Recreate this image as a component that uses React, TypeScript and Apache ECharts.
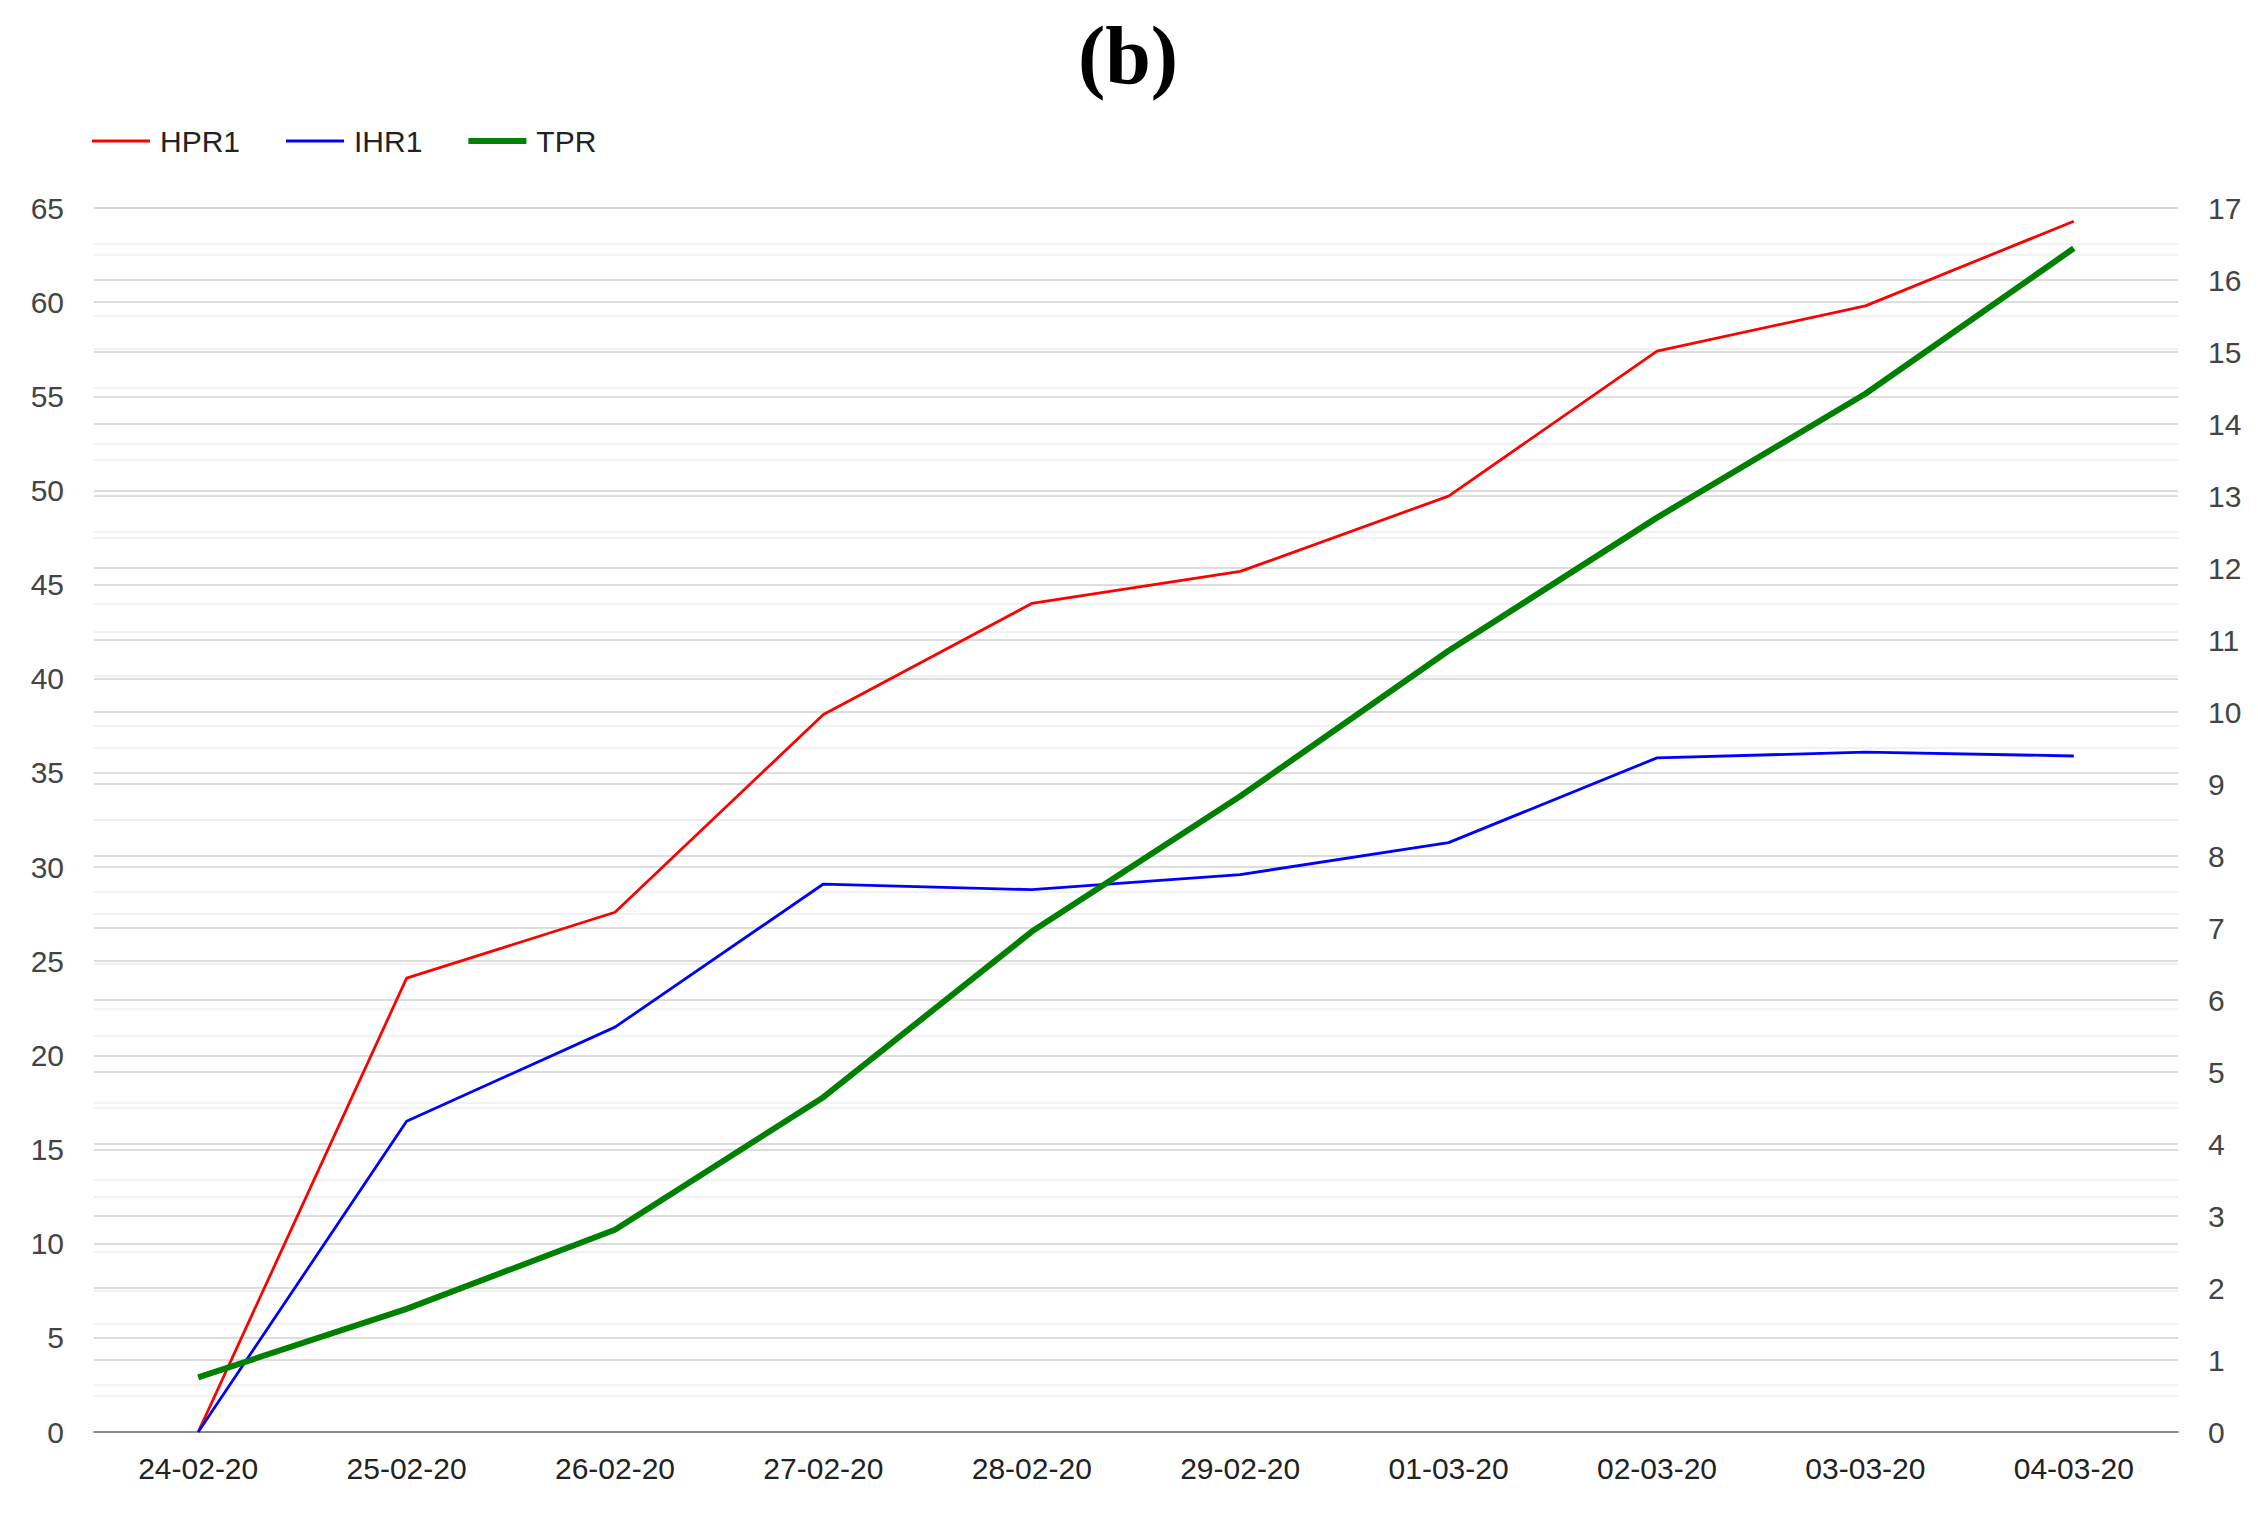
import React, { useEffect, useRef } from "react";
import * as echarts from "echarts";

const categories = ["24-02-20", "25-02-20", "26-02-20", "27-02-20", "28-02-20", "29-02-20", "01-03-20", "02-03-20", "03-03-20", "04-03-20"];
const hpr1 = [0, 24.1, 27.6, 38.1, 44.0, 45.7, 49.7, 57.4, 59.8, 64.3];
const ihr1 = [0, 16.5, 21.5, 29.1, 28.8, 29.6, 31.3, 35.8, 36.1, 35.9];
const tpr = [0.76, 1.71, 2.81, 4.65, 6.95, 8.83, 10.85, 12.7, 14.42, 16.44];

const FONT = "'Liberation Sans', Arial, sans-serif";
const RED = "#ff0000";
const BLUE = "#0000ff";
const GREEN = "#008000";

export default function App() {
  const ref = useRef<HTMLDivElement>(null);
  useEffect(() => {
    if (!ref.current) return;
    const chart = echarts.init(ref.current, undefined, { renderer: "svg" });
    const major = { show: true, lineStyle: { color: "#d2d2d2", width: 1.5 } };
    const minor = { show: true, lineStyle: { color: "#ececec", width: 1.5 } };
    chart.setOption({
      animation: false,
      backgroundColor: "#ffffff",
      graphic: [
        {
          type: "text",
          x: 1128,
          y: 55,
          style: {
            text: "(b)",
            font: "bold 82px 'Liberation Serif', 'Times New Roman', serif",
            fill: "#000",
            textAlign: "center",
            textVerticalAlign: "middle",
          },
        },
      ],
      legend: {
        left: 87,
        top: 121,
        itemWidth: 58,
        itemHeight: 14,
        itemGap: 46,
        symbolKeepAspect: true,
        textStyle: { fontFamily: FONT, fontSize: 30, color: "#222", lineHeight: 30, padding: [0, 0, 0, 5] },
        data: [
          { name: "HPR1", icon: "path://M0,0H58V3H0Z", itemStyle: { color: RED, opacity: 1 } },
          { name: "IHR1", icon: "path://M0,0H58V3H0Z", itemStyle: { color: BLUE, opacity: 1 } },
          { name: "TPR", icon: "path://M0,0H58V6H0Z", itemStyle: { color: GREEN, opacity: 1 } },
        ],
      },
      grid: { left: 94, right: 80, top: 208, bottom: 94, containLabel: false },
      xAxis: {
        type: "category",
        data: categories,
        boundaryGap: true,
        axisLine: { show: true, lineStyle: { color: "#8c8c8c", width: 2 } },
        axisTick: { show: false },
        axisLabel: { fontFamily: FONT, fontSize: 30, color: "#222", margin: 21 },
        splitLine: { show: false },
      },
      yAxis: [
        {
          type: "value",
          min: 0,
          max: 65,
          interval: 5,
          axisLine: { show: false },
          axisTick: { show: false },
          minorTick: { show: false, splitNumber: 2 },
          axisLabel: { fontFamily: FONT, fontSize: 30, color: "#444", margin: 30 },
          splitLine: major,
          minorSplitLine: minor,
        },
        {
          type: "value",
          min: 0,
          max: 17,
          interval: 1,
          position: "right",
          axisLine: { show: false },
          axisTick: { show: false },
          minorTick: { show: false, splitNumber: 2 },
          axisLabel: { fontFamily: FONT, fontSize: 30, color: "#444", margin: 30 },
          splitLine: major,
          minorSplitLine: minor,
        },
      ],
      series: [
        {
          name: "HPR1",
          type: "line",
          yAxisIndex: 0,
          data: hpr1,
          symbol: "none",
          lineStyle: { color: RED, width: 2.8 },
          itemStyle: { color: RED },
          z: 3,
        },
        {
          name: "IHR1",
          type: "line",
          yAxisIndex: 0,
          data: ihr1,
          symbol: "none",
          lineStyle: { color: BLUE, width: 2.8 },
          itemStyle: { color: BLUE },
          z: 3,
        },
        {
          name: "TPR",
          type: "line",
          yAxisIndex: 1,
          data: tpr,
          symbol: "none",
          lineStyle: { color: GREEN, width: 6 },
          itemStyle: { color: GREEN },
          z: 4,
        },
      ],
    });
    return () => chart.dispose();
  }, []);
  return (
    <div
      ref={ref}
      style={{ position: "fixed", left: 0, top: 0, width: 2258, height: 1526, background: "#fff" }}
    />
  );
}
